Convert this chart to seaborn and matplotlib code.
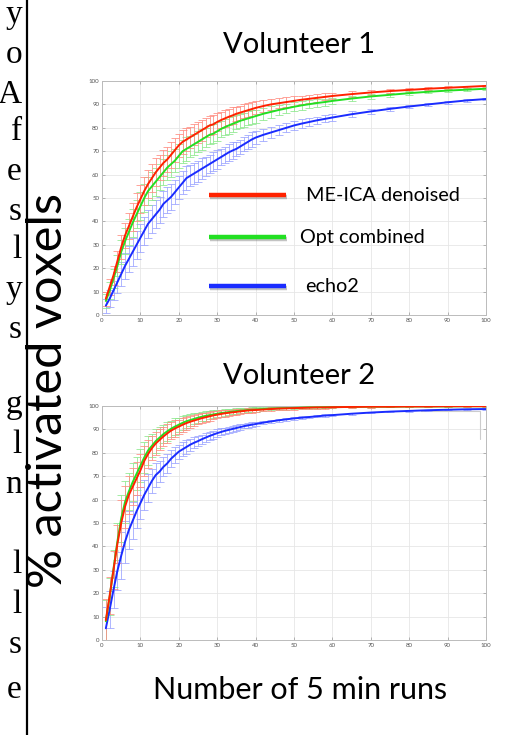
import numpy as np
import pandas as pd
import matplotlib
matplotlib.use("Agg")
import matplotlib.pyplot as plt
import matplotlib.patheffects as pe
import seaborn as sns

# ---------------- data ----------------
RUNS = list(range(1, 41)) + list(range(42, 61, 2)) + list(range(65, 101, 5))

V1_MEICA = [7, 12, 17, 23, 29, 34, 38, 42, 46, 49.5, 53, 56, 58.5, 61, 63, 65, 66.5, 68.5, 70.5, 72.5,
            74, 75, 76, 77, 78, 79, 80, 81, 81.5, 82.5, 83.3, 84, 84.7, 85.3, 86, 86.5, 87, 87.5, 88, 88.5,
            89.3, 90, 90.5, 91, 91.5, 92, 92.4, 92.8, 93.2, 93.6,
            94.4, 95.1, 95.7, 96.2, 96.7, 97.1, 97.5, 97.9]
V1_OPT = [6, 10.5, 15.5, 21, 27, 31.5, 35.5, 39.5, 43, 46.5, 50, 53, 55, 57, 59, 61, 63, 64.5, 66, 68,
          70, 71, 72, 73, 74, 75, 76, 77, 77.5, 78.5, 79.5, 80.3, 81, 81.7, 82.3, 83, 83.5, 84, 84.5, 85,
          86, 86.8, 87.6, 88.3, 89, 89.6, 90.1, 90.6, 91, 91.5,
          92.5, 93.4, 94.1, 94.8, 95.4, 95.9, 96.3, 96.7]
V1_ECHO2 = [4, 7, 10.5, 14, 17.5, 21, 24, 27, 30, 33, 36, 39, 41, 43, 45, 47.5, 49, 50.5, 52.5, 54.5,
            56.5, 58.5, 59.5, 60.5, 61.5, 62.5, 63.5, 64.5, 65.5, 66.5, 67.5, 68.5, 69.5, 70.3, 71, 72, 73, 74, 75, 75.8,
            77, 78, 79, 80, 81, 81.8, 82.5, 83.2, 83.8, 84.4,
            85.8, 87, 88.1, 89.1, 90, 90.9, 91.7, 92.3]
V1_ERR = [3, 3.5, 4, 4.5, 5, 5.5, 5.5, 6, 6, 6, 6, 6, 6, 6, 5.5, 5.5, 5.5, 5.5, 5, 5,
          5, 5, 4.5, 4.5, 4.5, 4.5, 4, 4, 4, 4, 3.5, 3.5, 3.5, 3.5, 3, 3, 3, 3, 3, 2.8,
          2.6, 2.4, 2.2, 2, 2, 1.8, 1.7, 1.6, 1.5, 1.4,
          1.2, 1, 0.9, 0.8, 0.7, 0.6, 0.5, 0.5]

V2_MEICA = [8.5, 19, 30, 41, 50, 57, 62, 65.5, 69, 72.5, 76.5, 79.5, 82, 84, 85.5, 87, 88.3, 89.5, 90.4, 91.2,
            92, 92.7, 93.3, 93.8, 94.3, 94.8, 95.2, 95.6, 96, 96.3, 96.6, 96.9, 97.1, 97.3, 97.5, 97.7, 97.9, 98.1, 98.2, 98.3,
            98.5, 98.7, 98.9, 99, 99.1, 99.2, 99.3, 99.4, 99.4, 99.5,
            99.6, 99.7, 99.7, 99.8, 99.8, 99.9, 99.9, 99.9]
V2_OPT = [8, 18.5, 30.5, 42, 52, 59, 63.5, 67.5, 71, 74.5, 78, 81, 83, 85, 86.5, 88, 89.2, 90.3, 91.2, 92,
          92.8, 93.5, 94, 94.5, 95, 95.4, 95.8, 96.1, 96.4, 96.7, 97, 97.2, 97.4, 97.6, 97.8, 98, 98.1, 98.3, 98.4, 98.5,
          98.7, 98.9, 99, 99.1, 99.2, 99.3, 99.4, 99.4, 99.5, 99.5,
          99.6, 99.7, 99.7, 99.8, 99.8, 99.8, 99.9, 99.9]
V2_ECHO2 = [5, 13, 21.5, 29.5, 36, 42, 47, 51, 55, 58.5, 62, 65, 68, 70.5, 72, 74, 75.5, 77.5, 79, 80.5,
            81.5, 82.5, 83.5, 84.3, 85, 85.8, 86.5, 87.2, 87.8, 88.4, 88.9, 89.4, 89.8, 90.2, 90.6, 91, 91.4, 91.7, 92, 92.3,
            92.9, 93.4, 93.9, 94.3, 94.7, 95, 95.3, 95.6, 95.9, 96.1,
            96.7, 97.2, 97.6, 97.9, 98.2, 98.4, 98.6, 98.7]
V2_ERR = [9, 8, 8, 8, 10, 9, 8, 8, 7, 7, 6.5, 6, 5, 5, 4.5, 4, 4, 3.5, 3.5, 3,
          3, 2.8, 2.6, 2.4, 2.2, 2, 2, 1.8, 1.7, 1.6, 1.5, 1.4, 1.3, 1.2, 1.2, 1.1, 1, 1, 1, 0.9,
          0.8, 0.8, 0.7, 0.7, 0.6, 0.6, 0.5, 0.5, 0.5, 0.5,
          0.4, 0.4, 0.3, 0.3, 0.3, 0.2, 0.2, 0.2]

SERIES = ["ME-ICA denoised", "Opt combined", "echo2"]
TITLES = ["Volunteer 1", "Volunteer 2"]
TICKS = list(range(0, 101, 10))
YLABEL = "% activated voxels"
XLABEL = "Number of 5 min runs"
EDGE_CHARS = ["y", "o", "A", "f", "e", "s", "l", "y", "s", "g", "l", "n", "l", "l", "s", "e"]

LINE_COLORS = {"ME-ICA denoised": "#ff2200", "Opt combined": "#22e022", "echo2": "#1a2cff"}
BAR_COLORS = {"ME-ICA denoised": "#ff8c80", "Opt combined": "#8ce88c", "echo2": "#9aa2ff"}

panels = [
    {"ME-ICA denoised": V1_MEICA, "Opt combined": V1_OPT, "echo2": V1_ECHO2, "err": V1_ERR},
    {"ME-ICA denoised": V2_MEICA, "Opt combined": V2_OPT, "echo2": V2_ECHO2, "err": V2_ERR},
]

# ---------------- figure ----------------
sns.set_theme(style="white")
plt.rcParams["font.family"] = ["Lato", "DejaVu Sans"]

W, H = 506, 735
fig = plt.figure(figsize=(W / 100, H / 100), dpi=100)

def fx(px):
    return px / W

def fy(py):
    return 1 - py / H

axes_px = [(102, 81, 486, 315), (102, 406, 486, 640)]
draw_order = ["echo2", "Opt combined", "ME-ICA denoised"]

for i, (pnl, (x0, y0, x1, y1)) in enumerate(zip(panels, axes_px)):
    ax = fig.add_axes([fx(x0), fy(y1), fx(x1 - x0), (y1 - y0) / H])
    rows = []
    for s in SERIES:
        for r, v in zip(RUNS, pnl[s]):
            rows.append({"runs": r, "pct": v, "method": s})
    df = pd.DataFrame(rows)
    for s in draw_order:
        ax.errorbar(RUNS, pnl[s], yerr=pnl["err"], fmt="none", ecolor=BAR_COLORS[s],
                    elinewidth=0.7, capsize=2.6, capthick=0.7, alpha=0.8, zorder=2)
    for s in draw_order:
        sns.lineplot(data=df[df["method"] == s], x="runs", y="pct", color=LINE_COLORS[s],
                     linewidth=1.4, ax=ax, legend=False, zorder=3)
    ax.set_xlim(0, 100)
    ax.set_ylim(0, 100)
    ax.set_xticks(TICKS)
    ax.set_yticks(TICKS)
    ax.set_xticklabels([str(t) for t in TICKS])
    ax.set_yticklabels([str(t) for t in TICKS])
    ax.tick_params(axis="both", labelsize=4.4, labelcolor="#555555", direction="in",
                   length=2, width=0.5, color="#999999", pad=2,
                   top=True, right=True, bottom=True, left=True)
    ax.grid(True, color="#e6e6e6", linewidth=0.6)
    ax.set_axisbelow(True)
    for sp in ax.spines.values():
        sp.set_color("#bbbbbb")
        sp.set_linewidth(0.7)
    ax.set_xlabel("")
    ax.set_ylabel("")

    if i == 0:
        # legend drawn inside the upper panel
        leg_rows = [(0.512, SERIES[0], 0.53), (0.333, SERIES[1], 0.515), (0.122, SERIES[2], 0.528)]
        for ypos, s, tx in leg_rows:
            ax.plot([0.278, 0.48], [ypos, ypos], transform=ax.transAxes, color=LINE_COLORS[s],
                    linewidth=3.2, solid_capstyle="butt", zorder=5,
                    path_effects=[pe.SimpleLineShadow(offset=(0.8, -1.2), alpha=0.35, shadow_color="#555555"),
                                  pe.Normal()])
            ax.text(tx, ypos, s, transform=ax.transAxes, fontsize=14.3, color="black",
                    va="center", ha="left", zorder=5)
    else:
        # small bracket artefact near top-right
        ax.plot([0.83, 0.985, 0.985], [0.977, 0.977, 0.86], transform=ax.transAxes,
                color="#cccccc", linewidth=0.8, zorder=1)

fig.text(fx(299), fy(45), TITLES[0], fontsize=21, ha="center", va="center", color="black")
fig.text(fx(299), fy(376), TITLES[1], fontsize=21, ha="center", va="center", color="black")
fig.text(fx(300), fy(690), XLABEL, fontsize=22, ha="center", va="center", color="black")
fig.text(fx(48), fy(390), YLABEL, fontsize=35, ha="center", va="center", rotation=90, color="black")

# left border and clipped neighbouring text
fig.add_artist(plt.Line2D([fx(27), fx(27)], [0, 1], color="black", linewidth=1.6))
edge_y = [15, 55, 95, 132, 172, 212, 250, 290, 330, 405, 445, 485, 565, 605, 645, 690]
for ch, yy in zip(EDGE_CHARS, edge_y):
    fig.text(fx(22), fy(yy), ch, fontsize=24, ha="right", va="center",
             family=["Liberation Serif", "DejaVu Serif"], color="black")

fig.savefig("out.png", dpi=100, facecolor="white")
